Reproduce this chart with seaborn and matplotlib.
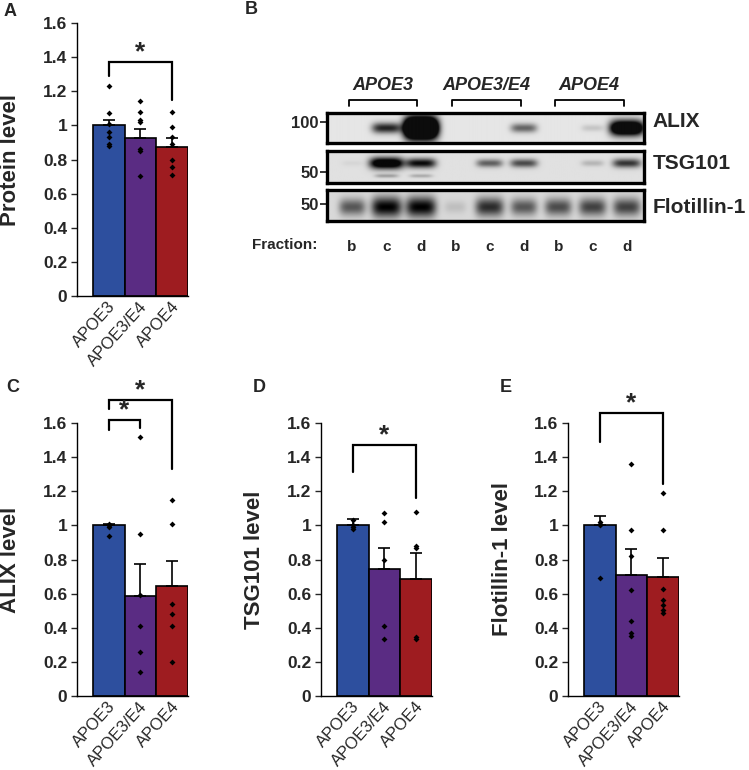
import numpy as np
import pandas as pd
import matplotlib
matplotlib.use('Agg')
import matplotlib.pyplot as plt
import matplotlib.transforms as mtransforms
import seaborn as sns

sns.set_style('white')
plt.rcParams['font.family'] = ['Liberation Sans', 'DejaVu Sans']

# groups
genotypes = ['APOE3', 'APOE3/E4', 'APOE4']
bar_colors = ['#2D4F9E', '#5A2C83', '#9E1C20']
ytick_vals = [0, 0.2, 0.4, 0.6, 0.8, 1.0, 1.2, 1.4, 1.6]
ytick_labels = ['0', '0.2', '0.4', '0.6', '0.8', '1', '1.2', '1.4', '1.6']

# A - protein level
protein_mean = [1.0, 0.926, 0.875]
protein_se = [0.033, 0.05, 0.05]
protein_pts = [[1.23, 1.07, 1.01, 0.96, 0.93, 0.89, 0.88],
               [1.145, 1.077, 1.03, 1.02, 0.86, 0.85, 0.705],
               [1.077, 0.99, 0.93, 0.89, 0.80, 0.755, 0.71]]

# C - ALIX
alix_mean = [1.0, 0.584, 0.643]
alix_se = [0.01, 0.19, 0.147]
alix_pts = [[1.01, 1.0, 1.0, 0.99, 0.94],
            [1.52, 0.95, 0.59, 0.41, 0.26, 0.14],
            [1.15, 1.01, 0.54, 0.48, 0.41, 0.20]]

# D - TSG101
tsg_mean = [1.0, 0.745, 0.685]
tsg_se = [0.035, 0.125, 0.155]
tsg_pts = [[1.03, 1.0, 0.99, 0.98],
           [1.07, 1.02, 0.80, 0.41, 0.335],
           [1.08, 0.88, 0.87, 0.345, 0.335]]

# E - Flotillin-1
flot_mean = [1.0, 0.71, 0.70]
flot_se = [0.056, 0.15, 0.11]
flot_pts = [[1.02, 1.01, 1.0, 0.69],
            [1.36, 0.97, 0.82, 0.62, 0.44, 0.37, 0.35],
            [1.19, 0.97, 0.63, 0.56, 0.535, 0.505, 0.485]]

# B - western blot band intensities, lanes b c d x 3 genotypes
fraction_labels = ['b', 'c', 'd'] * 3
alix_band = [0.0, 0.9, 3.0, 0.0, 0.0, 0.6, 0.0, 0.15, 1.8]
tsg_band = [0.05, 1.4, 1.0, 0.0, 0.6, 0.7, 0.0, 0.2, 0.8]
tsg_lower_band = [0.0, 0.3, 0.25, 0.0, 0.0, 0.0, 0.0, 0.0, 0.0]
flot_band = [0.6, 1.0, 1.0, 0.12, 0.8, 0.6, 0.65, 0.7, 0.7]

W, H = 749, 770
fig = plt.figure(figsize=(W / 100, H / 100), dpi=100)


def rect(x0, y_top, x1, y_bot):
    return [x0 / W, 1 - y_bot / H, (x1 - x0) / W, (y_bot - y_top) / H]


def bar_panel(ax, means, se, pts, ylabel, brackets):
    df = pd.DataFrame({'genotype': genotypes, 'level': means})
    sns.barplot(data=df, x='genotype', y='level', hue='genotype', palette=bar_colors,
                order=genotypes, width=1, edgecolor='black', linewidth=1.2,
                saturation=1, legend=False, ax=ax)
    ax.errorbar(range(3), means, yerr=[np.zeros(3), se], fmt='none', ecolor='black',
                elinewidth=1.2, capsize=4.5, capthick=1.2, zorder=3)
    pdf = pd.DataFrame({'genotype': np.repeat(genotypes, [len(p) for p in pts]),
                        'level': np.concatenate(pts)})
    sns.stripplot(data=pdf, x='genotype', y='level', order=genotypes, jitter=False,
                  color='black', marker='D', size=3, linewidth=0, ax=ax, zorder=4)
    ax.set_xlim(-1, 2.5)
    ax.set_ylim(0, 1.6)
    ax.set_yticks(ytick_vals)
    ax.set_yticklabels(ytick_labels, fontsize=12.5, fontweight='bold')
    ax.tick_params(axis='y', direction='out', length=4, width=1, pad=3, left=True)
    ax.tick_params(axis='x', length=0, pad=2)
    offset = mtransforms.ScaledTranslation(10 / 100, 0, fig.dpi_scale_trans)
    for lab in ax.get_xticklabels():
        lab.set_rotation(48)
        lab.set_ha('right')
        lab.set_fontsize(12)
        lab.set_transform(lab.get_transform() + offset)
    ax.set_xlabel('')
    ax.set_ylabel(ylabel, fontsize=16, fontweight='bold')
    ax.yaxis.set_label_coords(-0.50, 0.5)
    for s in ['top', 'right']:
        ax.spines[s].set_visible(False)
    for s in ['left', 'bottom']:
        ax.spines[s].set_linewidth(1)
        ax.spines[s].set_color('black')
    for x0, x1, top, left_end, right_end, star_y in brackets:
        ax.plot([x0, x0, x1, x1], [left_end, top, top, right_end], color='black',
                lw=1.6, clip_on=False, solid_joinstyle='miter')
        ax.text((x0 + x1) / 2, star_y, '*', ha='center', va='center', fontsize=19,
                fontweight='bold', clip_on=False)


axA = fig.add_axes(rect(77, 23, 188, 296))
bar_panel(axA, protein_mean, protein_se, protein_pts, 'Protein level',
          [(0, 2, 1.37, 1.29, 1.15, 1.43)])

axC = fig.add_axes(rect(77, 423, 188, 696))
bar_panel(axC, alix_mean, alix_se, alix_pts, 'ALIX level',
          [(0, 1, 1.62, 1.56, 1.57, 1.675), (0, 2, 1.735, 1.68, 1.33, 1.79)])

axD = fig.add_axes(rect(321, 423, 432, 696))
bar_panel(axD, tsg_mean, tsg_se, tsg_pts, 'TSG101 level',
          [(0, 2, 1.47, 1.31, 1.16, 1.525)])

axE = fig.add_axes(rect(568, 423, 679, 696))
bar_panel(axE, flot_mean, flot_se, flot_pts, 'Flotillin-1 level',
          [(0, 2, 1.66, 1.49, 1.245, 1.715)])


# ---- blot panel B
xs = np.linspace(-0.73, 8.49, 460)
ys = np.linspace(0, 1, 90)
X, Y = np.meshgrid(xs, ys)


def band_image(intensity, yc, hy):
    dark = np.zeros_like(X)
    for k, v in enumerate(intensity):
        wx = 0.30 + 0.14 * min(v, 1.4)
        wy = hy * (0.6 + 0.5 * min(v, 3.0))
        dark += v * np.exp(-((X - k) / wx) ** 4) * np.exp(-((Y - yc) / wy) ** 2)
    return dark


def blot_panel(ax, dark, name, name_y, mw, mw_y, bg=0.9):
    img = bg - 0.85 * np.clip(dark, 0, 1)
    ax.imshow(img, cmap='gray', vmin=0, vmax=1, origin='lower', aspect='auto',
              extent=(xs[0], xs[-1], 0, 1), interpolation='bilinear')
    ax.set_xlim(xs[0], xs[-1])
    ax.set_ylim(0, 1)
    for s in ax.spines.values():
        s.set_linewidth(2.4)
        s.set_color('black')
        s.set_visible(True)
    ax.set_xticks([])
    ax.set_yticks([mw_y])
    ax.set_yticklabels([mw], fontsize=12, fontweight='bold')
    ax.tick_params(axis='y', left=True, direction='out', length=5, width=1.3, pad=1)
    ax.text(1.028, name_y, name, transform=ax.transAxes, ha='left', va='center',
            fontsize=15, fontweight='bold')


axB1 = fig.add_axes(rect(327, 113, 644, 143))
blot_panel(axB1, band_image(alix_band, 0.5, 0.17), 'ALIX', 0.73, '100', 0.7)

axB2 = fig.add_axes(rect(327, 151, 644, 183))
blot_panel(axB2, band_image(tsg_band, 0.62, 0.14) + band_image(tsg_lower_band, 0.22, 0.08),
           'TSG101', 0.62, '50', 0.34, bg=0.88)

axB3 = fig.add_axes(rect(327, 190, 644, 221))
blot_panel(axB3, band_image(flot_band, 0.45, 0.3), 'Flotillin-1', 0.45, '50', 0.55, bg=0.85)
axB3.set_xticks(range(9))
axB3.set_xticklabels(fraction_labels, fontsize=11, fontweight='bold')
axB3.tick_params(axis='x', length=0, pad=14)
blend3 = mtransforms.blended_transform_factory(axB3.transData, axB3.transAxes)
axB3.text(-1.95, -0.77, 'Fraction:', transform=blend3, ha='center', va='center',
          fontsize=11, fontweight='bold')

# genotype headers over the lanes
blend1 = mtransforms.blended_transform_factory(axB1.transData, axB1.transAxes)
for g, name in enumerate(genotypes):
    x0, x1 = 3 * g - 0.1, 3 * g + 1.9
    axB1.plot([x0, x0, x1, x1], [1.23, 1.43, 1.43, 1.23], color='black', lw=1.3,
              transform=blend1, clip_on=False)
    axB1.text(3 * g + 0.9, 1.9, name, transform=blend1, ha='center', va='center',
              fontsize=13, fontweight='bold', style='italic')

# panel letters
for letter, x, y in [('A', 10, 11), ('B', 251, 10), ('C', 13, 387), ('D', 259, 387), ('E', 506, 387)]:
    fig.text(x / W, 1 - y / H, letter, ha='center', va='center', fontsize=13, fontweight='bold')

fig.savefig('out.png', dpi=100)
